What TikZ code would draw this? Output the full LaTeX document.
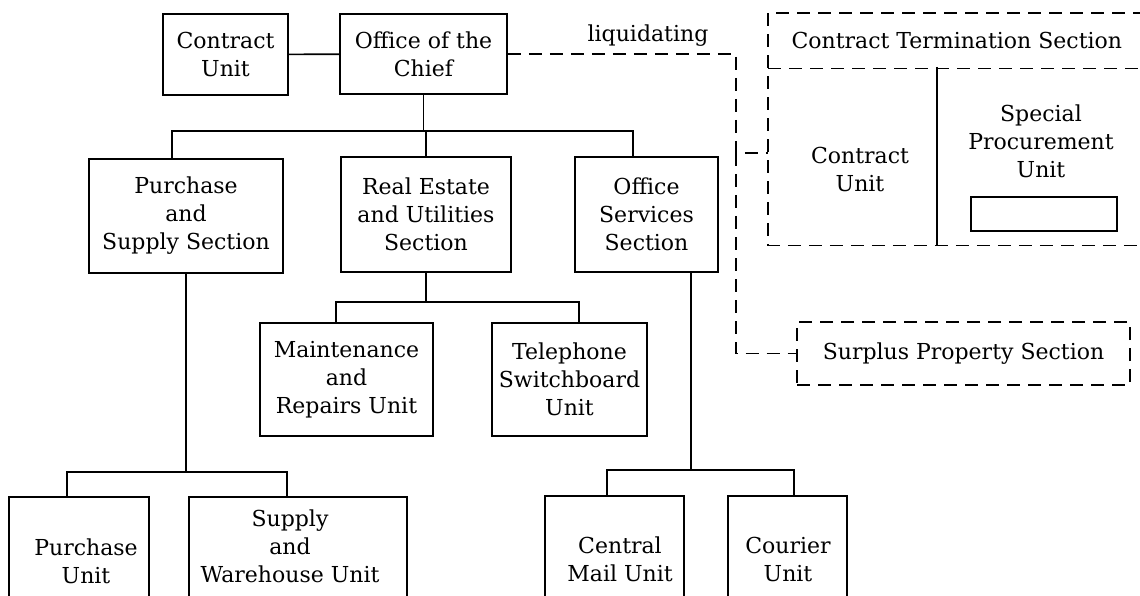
\documentclass[tikz,border=0pt]{standalone}
\usepackage{fontspec}
\setmainfont{DejaVu Serif}

\begin{document}
\begin{tikzpicture}[x=1pt, y=-1pt, line width=1.6pt,
    font=\fontsize{22}{28}\selectfont,
    unit/.style={draw, align=center, inner sep=0pt},
    dashline/.style={dash pattern=on 13pt off 8pt},
    ]
    \useasboundingbox (0,0) rectangle (1140,596);
    \clip (0,0) rectangle (1140,596);

    \node[unit, minimum width=125pt, minimum height=81pt] (cu) at (225.5,54.5) {Contract\\Unit};
    \node[unit, minimum width=167pt, minimum height=80pt] (chief) at (423.5,54) {Office of the\\Chief};
    \node[unit, minimum width=194pt, minimum height=114pt] (pss) at (186,216) {Purchase\\and\\Supply Section};
    \node[unit, minimum width=170pt, minimum height=115pt] (reu) at (426,214.5) {Real Estate\\and Utilities\\Section};
    \node[unit, minimum width=143pt, minimum height=115pt] (oss) at (646.5,214.5) {Office\\Services\\Section};
    \node[unit, minimum width=173pt, minimum height=113pt] (mru) at (346.5,379.5) {Maintenance\\and\\Repairs Unit};
    \node[unit, minimum width=155pt, minimum height=113pt] (tsu) at (569.5,379.5) {Telephone\\Switchboard\\Unit};

    \node[unit, minimum width=140pt, minimum height=150pt, anchor=north] (pu) at (79,496) {};
    \node[align=center] (pu-t) at (86,561) {Purchase\\Unit};
    \node[unit, minimum width=218pt, minimum height=150pt, anchor=north] (swu) at (298,496) {};
    \node[align=center] (swu-t) at (290,546) {Supply\\and\\Warehouse Unit};
    \node[unit, minimum width=139pt, minimum height=150pt, anchor=north] (cmu) at (614.5,495) {};
    \node[align=center] (cmu-t) at (620,559) {Central\\Mail Unit};
    \node[unit, minimum width=119pt, minimum height=150pt, anchor=north] (cou) at (787.5,495) {};
    \node[align=center] (cou-t) at (788,559) {Courier\\Unit};

    \node[anchor=north west, inner sep=0pt, minimum width=376pt, minimum height=54pt] (cts) at (768,13) {Contract Termination Section};
    \node[anchor=north west, inner sep=0pt, minimum width=169pt, minimum height=177pt] (ctc) at (768,67) {};
    \node[anchor=north west, inner sep=0pt, minimum width=207pt, minimum height=177pt] (spu) at (937,67) {};
    \node[align=center] (ctc-t) at (860,169) {Contract\\Unit};
    \node[align=center] (spu-t) at (1041,141) {Special\\Procurement\\Unit};
    \node[draw, line width=2pt, minimum width=146pt, minimum height=34pt] (spu-b) at (1044,214) {};
    \draw[dashline] (cts.north east) -- (cts.north west) -- (ctc.south west) -- (spu.south east);
    \draw[dashline] (cts.south west) -- (cts.south east);
    \draw (spu.north west) -- (spu.south west);

    \node[unit, dashline, minimum width=333pt, minimum height=63pt] (sps) at (963.5,353.5) {Surplus Property Section};

    \coordinate (b1l) at (172,131);
    \coordinate (b1r) at (633,131);
    \coordinate (b2l) at (336,302);
    \coordinate (b2r) at (579,302);
    \coordinate (b3l) at (67,472);
    \coordinate (b3r) at (287,472);
    \coordinate (b4l) at (607,470);
    \coordinate (b4m) at (691,470);
    \coordinate (b4r) at (794,470);
    \coordinate (fork) at (736,153);

    \draw (cu) -- (chief);
    \draw (chief.south) -- (chief.south |- b1l);
    \draw (pss.north -| b1l) |- (b1r) -- (b1r |- oss.north);
    \draw (reu.north) -- (reu.north |- b1l);
    \draw (reu.south) -- (reu.south |- b2l);
    \draw (mru.north -| b2l) |- (b2r) -- (b2r |- tsu.north);
    \draw (pss.south) -- (pss.south |- b3l);
    \draw (pu.north -| b3l) |- (b3r) -- (b3r |- swu.north);
    \draw (oss.south -| b4m) -- (b4m);
    \draw (cmu.north -| b4l) |- (b4r) -- (b4r |- cou.north);

    \draw[dashline] (chief.east) -| (fork) -- (fork -| ctc.west);
    \draw[dashline] (fork) |- (sps.west);
    \node (liq) at (648,36) {liquidating};
\end{tikzpicture}
\end{document}
